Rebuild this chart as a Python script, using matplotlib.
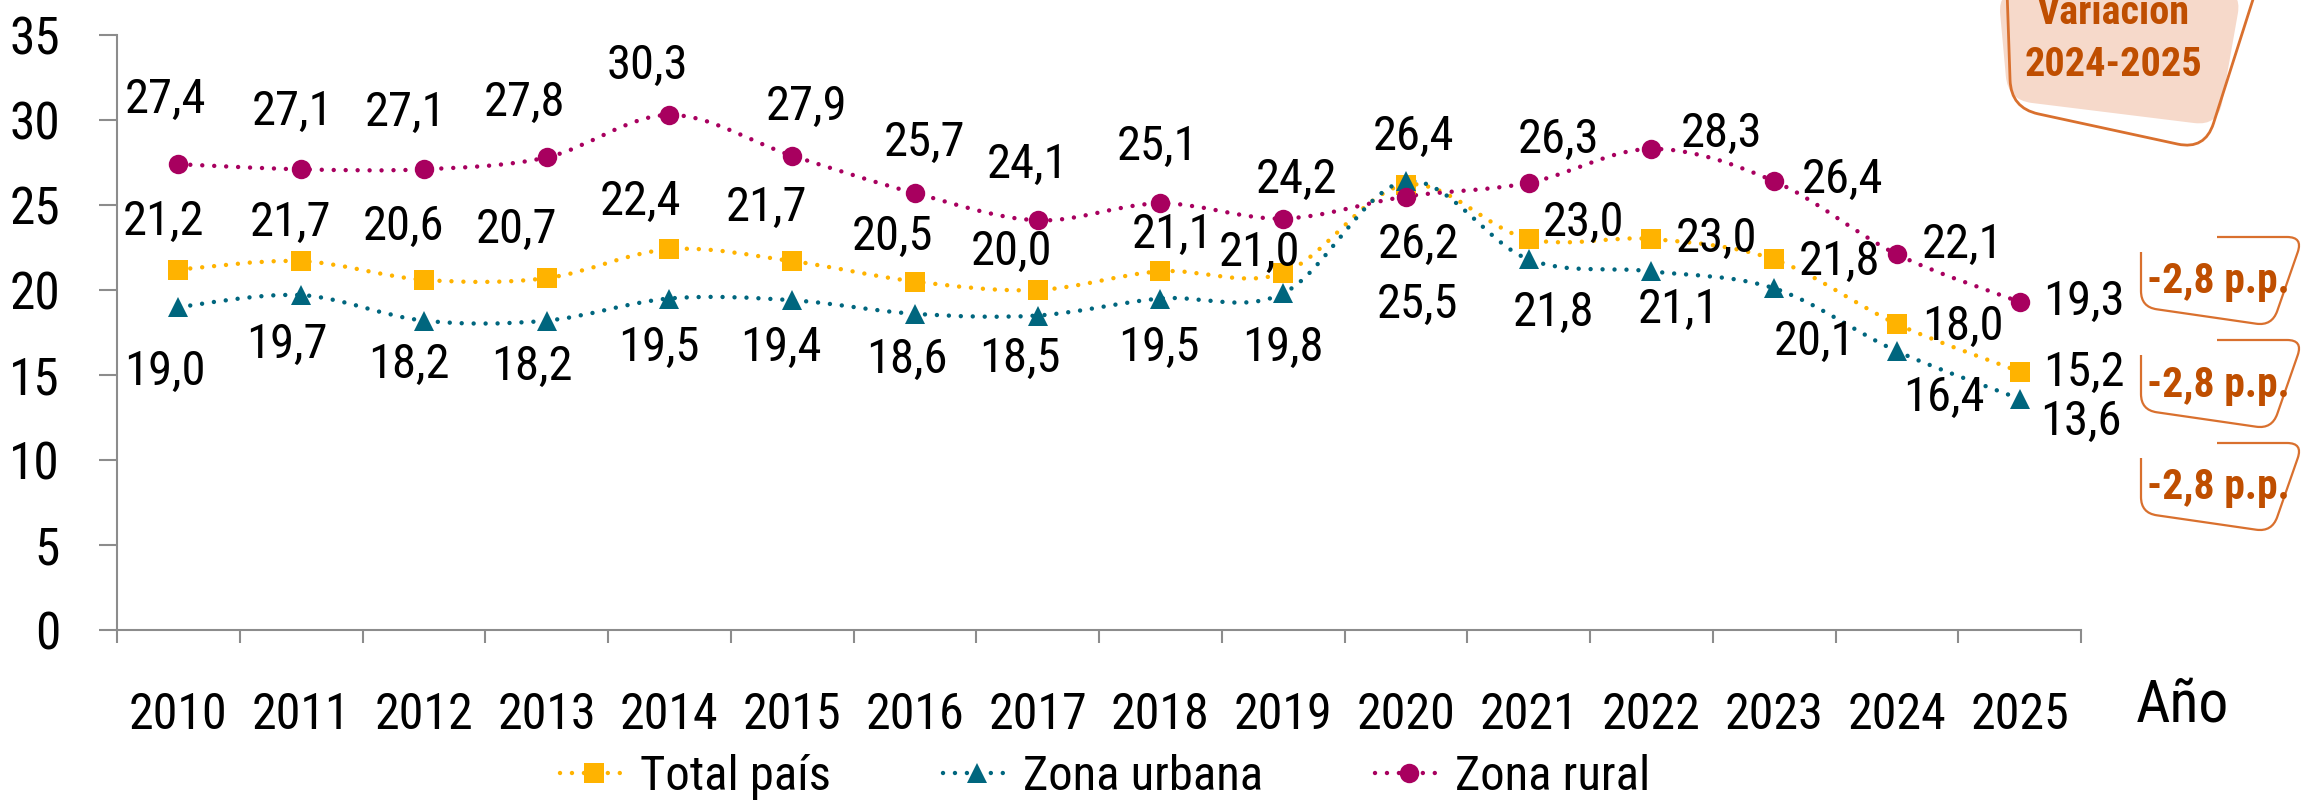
import numpy as np
import matplotlib
matplotlib.use("Agg")
import matplotlib.pyplot as plt
from matplotlib.path import Path
from matplotlib.patches import PathPatch
from matplotlib.lines import Line2D
from matplotlib.transforms import Affine2D

plt.rcParams["font.family"] = ["Liberation Sans Narrow", "Roboto Condensed", "Open Sans Condensed",
                               "DejaVu Sans Condensed", "Roboto", "DejaVu Sans"]
plt.rcParams["lines.scale_dashes"] = False

# data
years = [2010, 2011, 2012, 2013, 2014, 2015, 2016, 2017,
         2018, 2019, 2020, 2021, 2022, 2023, 2024, 2025]
total_pais = [21.2, 21.7, 20.6, 20.7, 22.4, 21.7, 20.5, 20.0,
              21.1, 21.0, 26.2, 23.0, 23.0, 21.8, 18.0, 15.2]
zona_urbana = [19.0, 19.7, 18.2, 18.2, 19.5, 19.4, 18.6, 18.5,
               19.5, 19.8, 26.4, 21.8, 21.1, 20.1, 16.4, 13.6]
zona_rural = [27.4, 27.1, 27.1, 27.8, 30.3, 27.9, 25.7, 24.1,
              25.1, 24.2, 25.5, 26.3, 28.3, 26.4, 22.1, 19.3]
variacion = ["-2,8 p.p.", "-2,8 p.p.", "-2,8 p.p."]

# label offsets in pixels (dx, dy), dy upwards
off_total = [(-15, 48), (-11, 38), (-20, 53), (-30, 48), (-29, 47), (-26, 53), (-22, 45), (-26, 38),
             (12, 36), (-24, 20), (13, -60), (55, 16), (65, 0), (65, -3), (66, -3), (64, -1)]
off_urbana = [(-14, -65), (-14, -50), (-15, -44), (-15, -46), (-11, -49), (-11, -48), (-8, -46), (-18, -43),
              (-2, -49), (0, -55), (8, 44), (25, -54), (27, -39), (40, -54), (47, -47), (61, -23)]
off_rural = [(-13, 64), (-9, 57), (-18, 56), (-22, 54), (-22, 49), (14, 49), (10, 50), (-10, 55),
             (-3, 56), (13, 39), (12, -108), (30, 43), (70, 15), (68, 1), (66, 9), (64, 0)]

C_TOTAL = "#FFB300"
C_URB = "#00667E"
C_RUR = "#A8005F"
C_ORANGE = "#BF4E00"
C_EDGE = "#D9702E"
C_FILL = "#F6D9CA"
GRAY = "#8C8C8C"
DOTS = (0, (0.01, 8.6))

W, H = 2311, 811
fig = plt.figure(figsize=(W / 100, H / 100), dpi=100)
ax = fig.add_axes([117 / W, 1 - 630 / H, (2081 - 117) / W, (630 - 35) / H])


def smooth_path(xs, ys):
    pts = np.column_stack([xs, ys]).astype(float)
    verts = [pts[0]]
    codes = [Path.MOVETO]
    n = len(pts)
    for i in range(n - 1):
        p0 = pts[i - 1] if i > 0 else pts[i]
        p1, p2 = pts[i], pts[i + 1]
        p3 = pts[i + 2] if i + 2 < n else pts[i + 1]
        verts += [p1 + (p2 - p0) / 6, p2 - (p3 - p1) / 6, p2]
        codes += [Path.CURVE4] * 3
    return Path(verts, codes)


x = np.arange(len(years))
series = [
    (total_pais, C_TOTAL, "s", "Total país", off_total),
    (zona_urbana, C_URB, "^", "Zona urbana", off_urbana),
    (zona_rural, C_RUR, "o", "Zona rural", off_rural),
]

handles = []
for vals, col, mk, lab, offs in series:
    ax.add_patch(PathPatch(smooth_path(x, vals), fill=False, edgecolor=col, lw=3.2,
                           linestyle=DOTS, capstyle="round", zorder=2))
    ax.plot(x, vals, linestyle="none", marker=mk, color=col, markersize=14,
            markeredgewidth=0, zorder=3)
    for xi, v, (dx, dy) in zip(x, vals, offs):
        ax.annotate(f"{v:.1f}".replace(".", ","), (xi, v), xytext=(dx, dy),
                    textcoords="offset pixels", ha="center", va="center",
                    fontsize=35, color="black", zorder=4)
    handles.append(Line2D([], [], color=col, lw=3.2, linestyle=DOTS, dash_capstyle="round",
                          marker=mk, markersize=14, markeredgewidth=0, label=lab))

ax.set_xlim(-0.5, len(years) - 0.5)
ax.set_ylim(0, 35)
ax.set_yticks(range(0, 36, 5))
ax.set_xticks(x)
ax.set_xticklabels([str(y) for y in years], fontsize=36)
ax.set_xticks(np.arange(-0.5, len(years), 1), minor=True)
ax.tick_params(axis="x", which="major", length=0, pad=44)
ax.tick_params(axis="x", which="minor", length=9, width=1.5, color=GRAY, direction="out")
ax.tick_params(axis="y", length=13, width=1.5, color=GRAY, labelsize=37, pad=28)
for s in ["top", "right"]:
    ax.spines[s].set_visible(False)
for s in ["left", "bottom"]:
    ax.spines[s].set_color(GRAY)
    ax.spines[s].set_linewidth(1.5)

fig.text(2182 / W, 1 - 706 / H, "Año", fontsize=43, ha="center", va="center")

fig.legend(handles=handles, loc="center", bbox_to_anchor=(1105 / W, 1 - 777 / H), ncol=3,
           frameon=False, fontsize=35, handlelength=1.4, handletextpad=0.25, columnspacing=2.3)

# decorations in pixel coords (origin top-left)
px = Affine2D().scale(1 / W, -1 / H).translate(0, 1) + fig.transFigure


def rounded(pts, r, closed=False):
    pts = [np.array(p, float) for p in pts]
    n = len(pts)
    verts, codes = [], []
    for i, p in enumerate(pts):
        if not closed and (i == 0 or i == n - 1):
            verts.append(p)
            codes.append(Path.MOVETO if i == 0 else Path.LINETO)
            continue
        a, b = pts[i - 1], pts[(i + 1) % n]
        pa = p + (a - p) * min(r / np.linalg.norm(a - p), 0.5)
        pb = p + (b - p) * min(r / np.linalg.norm(b - p), 0.5)
        verts.append(pa)
        codes.append(Path.MOVETO if not verts[:-1] else Path.LINETO)
        verts += [p, pb]
        codes += [Path.CURVE3, Path.CURVE3]
    if closed:
        verts.append(verts[0])
        codes.append(Path.CLOSEPOLY)
    return Path(verts, codes)


fig.add_artist(PathPatch(rounded([(1998, -10), (2008, 100), (2218, 126), (2242, -10)], 24, closed=True),
                         facecolor=C_FILL, edgecolor="none", transform=px))
fig.add_artist(PathPatch(rounded([(2007, -10), (2011, 108), (2205, 150), (2256, -10)], 28),
                         fill=False, edgecolor=C_EDGE, lw=2, transform=px))
fig.text(2113 / W, 1 - 13 / H, "Variación", fontsize=29, fontweight="bold", color=C_ORANGE,
         ha="center", va="center")
fig.text(2113 / W, 1 - 65 / H, "2024-2025", fontsize=29, fontweight="bold", color=C_ORANGE,
         ha="center", va="center")

for k, txt in enumerate(variacion):
    dy = 103 * k
    box = [(2217, 237 + dy), (2303, 237 + dy), (2272, 326 + dy), (2141, 307 + dy), (2141, 252 + dy)]
    fig.add_artist(PathPatch(rounded(box, 16), fill=False, edgecolor=C_EDGE, lw=1.6, transform=px))
    fig.text(2218 / W, 1 - (282 + dy) / H, txt, fontsize=30, fontweight="bold", color=C_ORANGE,
             ha="center", va="center")

fig.savefig("out.png", dpi=100)
